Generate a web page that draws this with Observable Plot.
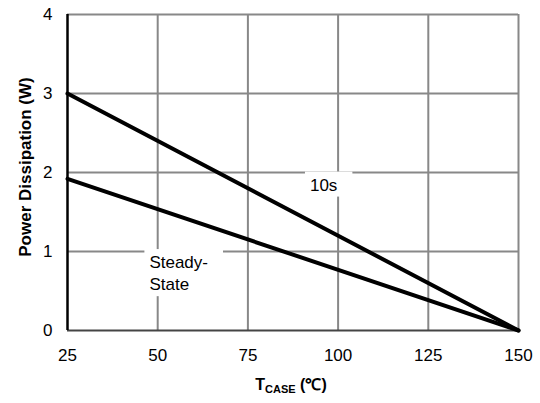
<!DOCTYPE html>
<html>
<head>
<meta charset="utf-8">
<script src="https://cdn.jsdelivr.net/npm/d3@7"></script>
<script src="https://cdn.jsdelivr.net/npm/@observablehq/plot@0.6"></script>
<style>
  html, body { margin: 0; padding: 0; background: #fff; }
  svg { font-family: "Liberation Sans", Arial, sans-serif; }
</style>
</head>
<body>
<div id="chart"></div>
<script>
// Data
const tcase = [25, 150];
const power10s = [3.0, 0];
const powerSteady = [1.92, 0];
const xTicks = [25, 50, 75, 100, 125, 150];
const yTicks = [0, 1, 2, 3, 4];
const labelText = ["10s", "Steady-\nState"];
const labelX = [96, 47.7];
const labelY = [1.84, 0.74];
const labelAnchor = ["middle", "start"];

const series = [
  {name: "10s", values: power10s},
  {name: "Steady-State", values: powerSteady}
];
const lineData = series.flatMap(s => tcase.map((t, i) => ({series: s.name, t, p: s.values[i]})));
const labels = labelText.map((text, i) => ({text, x: labelX[i], y: labelY[i], anchor: labelAnchor[i]}));

const chart = Plot.plot({
  width: 540,
  height: 403,
  marginLeft: 67,
  marginRight: 22,
  marginTop: 14,
  marginBottom: 73,
  style: {fontFamily: '"Liberation Sans", Arial, sans-serif', background: "#fff"},
  x: {domain: [25, 150], ticks: xTicks, label: null},
  y: {domain: [0, 4], ticks: yTicks, label: null},
  marks: [
    Plot.gridX(xTicks.filter(d => d > 25), {stroke: "#888", strokeOpacity: 1, strokeWidth: 2}),
    Plot.gridY(yTicks.filter(d => d > 0), {stroke: "#888", strokeOpacity: 1, strokeWidth: 2}),
    Plot.ruleY([0], {stroke: "#444", strokeWidth: 2}),
    Plot.ruleX([25], {stroke: "#000", strokeWidth: 2.5}),
    Plot.axisX(xTicks, {tickSize: 0, tickPadding: 18, fontSize: 17, fill: "#000", tickFormat: d => String(d)}),
    Plot.axisY(yTicks, {tickSize: 0, tickPadding: 15, fontSize: 17, fill: "#000", tickFormat: d => String(d)}),
    Plot.line(lineData, {x: "t", y: "p", z: "series", stroke: "#000", strokeWidth: 4}),
    Plot.text(labels.filter(d => d.anchor === "middle"), {x: "x", y: "y", text: "text", fontSize: 17, fill: "#000", textAnchor: "middle"}),
    Plot.text(labels.filter(d => d.anchor === "start"), {x: "x", y: "y", text: "text", fontSize: 17, fill: "#000", textAnchor: "start", lineHeight: 1.3})
  ]
});

document.getElementById("chart").appendChild(chart);

// White boxes behind the curve labels
const svgNS = "http://www.w3.org/2000/svg";
d3.select(chart).selectAll('g[aria-label="text"] > text').each(function() {
  const bb = this.getBBox();
  const r = document.createElementNS(svgNS, "rect");
  r.setAttribute("x", bb.x - 5);
  r.setAttribute("y", bb.y - 4);
  r.setAttribute("width", bb.width + 20);
  r.setAttribute("height", bb.height + 6);
  r.setAttribute("fill", "#fff");
  r.setAttribute("stroke", "none");
  const tr = this.getAttribute("transform");
  if (tr) r.setAttribute("transform", tr);
  this.parentNode.insertBefore(r, this);
});

// Axis titles
const svg = d3.select(chart);
const xt = svg.append("text")
  .attr("x", 291).attr("y", 390)
  .attr("text-anchor", "middle")
  .attr("font-weight", "bold")
  .attr("font-size", 16)
  .attr("fill", "#000");
xt.append("tspan").text("T");
xt.append("tspan").attr("font-size", 11).attr("dy", 3).text("CASE");
xt.append("tspan").attr("dy", -3).text(" (℃)");

svg.append("text")
  .attr("transform", "translate(31,167) rotate(-90)")
  .attr("text-anchor", "middle")
  .attr("font-weight", "bold")
  .attr("font-size", 17)
  .attr("fill", "#000")
  .text("Power Dissipation (W)");
</script>
</body>
</html>
